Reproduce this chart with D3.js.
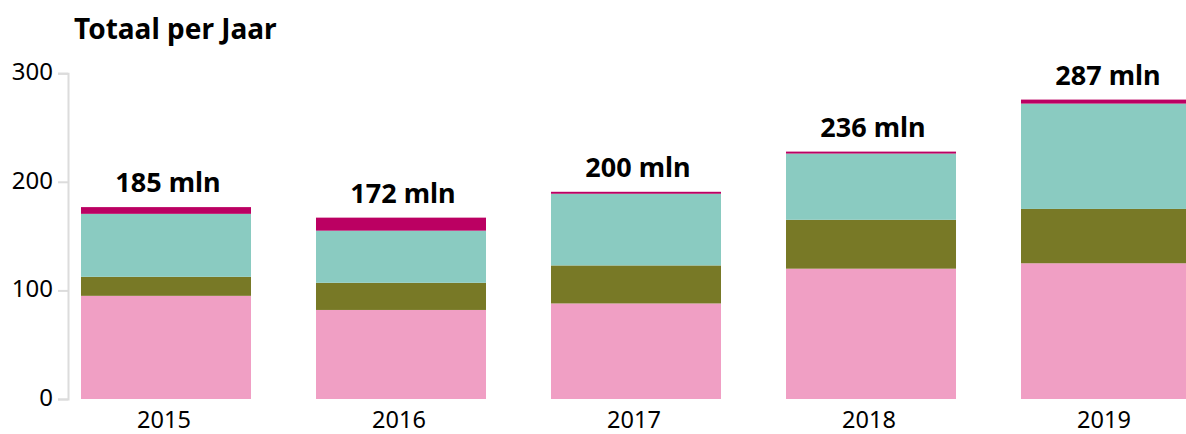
<!DOCTYPE html>
<html>
<head>
<meta charset="utf-8">
<script src="https://cdn.jsdelivr.net/npm/d3@7/dist/d3.min.js"></script>
<style>
  html, body { margin: 0; padding: 0; background: #fff; }
  svg { display: block; font-family: "Noto Sans", sans-serif; }
</style>
</head>
<body>
<svg id="chart" width="1186" height="434"></svg>
<script>
const years = ["2015", "2016", "2017", "2018", "2019"];
const seriesKeys = ["roze", "olijf", "turkoois", "magenta"];
const roze     = [95, 82, 88, 120, 125];
const olijf    = [17.5, 25, 35, 45, 50];
const turkoois = [58, 48, 66, 61, 97];
const magenta  = [6.2, 12, 1.8, 1.8, 3.7];
const totalLabels = ["185 mln", "172 mln", "200 mln", "236 mln", "287 mln"];
const yTicks = [0, 100, 200, 300];
const colors = ["#f09fc4", "#787926", "#8acbc1", "#bb0062"];
const title = "Totaal per Jaar";

const svg = d3.select("#chart");
const seriesVals = [roze, olijf, turkoois, magenta];
const rows = years.map((y, i) => {
  const r = { year: y };
  seriesKeys.forEach((k, j) => r[k] = seriesVals[j][i]);
  return r;
});
const stacked = d3.stack().keys(seriesKeys)(rows);

const x = d3.scaleBand().domain(years)
  .range([68, 1204]).paddingInner(0.2766).paddingOuter(0.0553);
const y = d3.scaleLinear().domain([0, 300]).range([399, 73.2]);
const color = d3.scaleOrdinal().domain(seriesKeys).range(colors);

svg.append("text")
  .attr("x", 74).attr("y", 39)
  .attr("font-size", 28).attr("font-weight", "bold").attr("fill", "#000")
  .text(title);

const yAxis = svg.append("g")
  .attr("transform", "translate(68,0)")
  .call(d3.axisLeft(y).tickValues(yTicks).tickSize(10).tickSizeOuter(10).tickPadding(5));
yAxis.select(".domain").attr("stroke", "#dcdcdc").attr("stroke-width", 2);
yAxis.selectAll(".tick line").attr("stroke", "#dcdcdc").attr("stroke-width", 2);
yAxis.selectAll(".tick text").attr("font-size", 24).attr("fill", "#000")
  .attr("dy", "0.26em")
  .attr("font-family", "Noto Sans, sans-serif");

svg.append("g").selectAll("g").data(stacked).join("g")
  .attr("fill", d => color(d.key))
  .selectAll("rect").data(d => d).join("rect")
  .attr("x", d => x(d.data.year))
  .attr("width", x.bandwidth())
  .attr("y", d => y(d[1]))
  .attr("height", d => y(d[0]) - y(d[1]));

const topLayer = stacked[stacked.length - 1];
svg.append("g").selectAll("text").data(years).join("text")
  .attr("x", d => x(d) + x.bandwidth() / 2 + 2)
  .attr("y", (d, i) => y(topLayer[i][1]) - 15)
  .attr("text-anchor", "middle")
  .attr("font-size", 27).attr("font-weight", "bold").attr("fill", "#000")
  .text((d, i) => totalLabels[i]);

svg.append("g").selectAll("text").data(years).join("text")
  .attr("x", d => x(d) + x.bandwidth() / 2 - 2)
  .attr("y", 428)
  .attr("text-anchor", "middle")
  .attr("font-size", 23.5).attr("fill", "#000")
  .text(d => d);
</script>
</body>
</html>
